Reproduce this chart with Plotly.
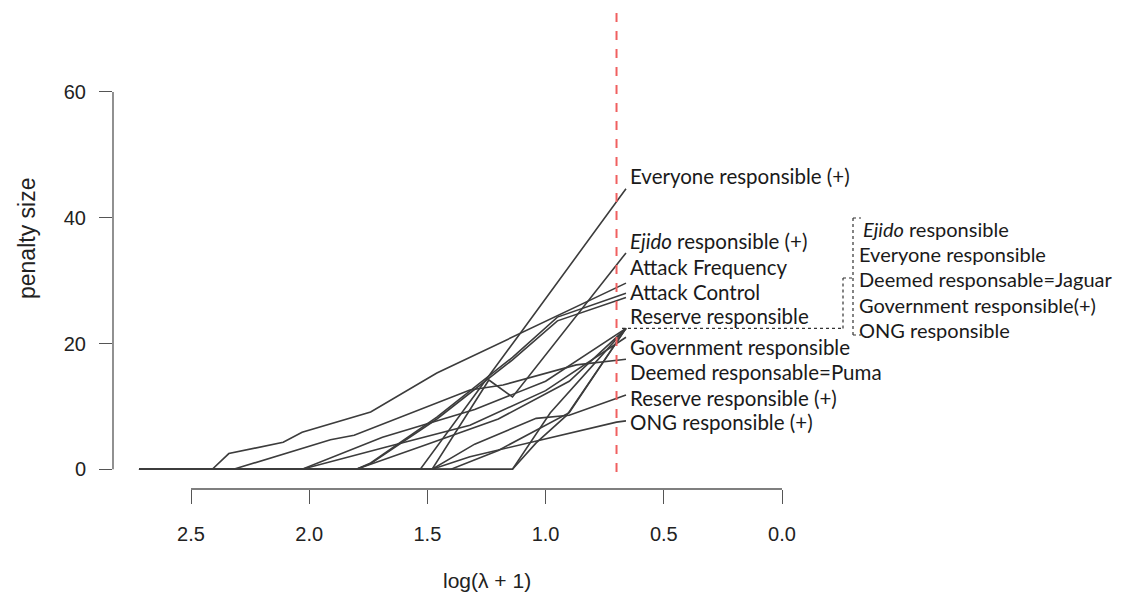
import plotly.graph_objects as go

# ---------------- data (x = log(lambda+1), y = penalty size) ----------------
everyone_pos_x = [2.72, 1.53, 1.10, 0.66]
everyone_pos_y = [0, 0, 22.0, 44.6]

ejido_pos_x = [2.72, 1.48, 1.24, 1.14, 0.66]
ejido_pos_y = [0, 0, 14.2, 11.5, 34.4]

attack_freq_x = [2.72, 2.41, 2.34, 2.11, 2.03, 1.74, 1.46, 1.28, 0.66]
attack_freq_y = [0, 0, 2.5, 4.3, 5.9, 9.1, 15.3, 18.5, 29.6]

attack_ctrl_x = [2.72, 1.80, 1.74, 1.46, 1.14, 0.95, 0.66]
attack_ctrl_y = [0, 0, 1.0, 8.3, 17.8, 24.2, 28.0]

reserve_x = [2.72, 1.80, 1.74, 1.46, 1.14, 0.95, 0.66]
reserve_y = [0, 0, 0.9, 8.0, 17.4, 23.6, 27.3]

deemed_puma_x = [2.72, 2.32, 1.91, 1.81, 1.32, 1.18, 0.87, 0.66]
deemed_puma_y = [0, 0, 4.7, 5.4, 12.6, 13.4, 16.6, 17.5]

government_x = [2.72, 2.03, 1.69, 1.32, 1.00, 0.66]
government_y = [0, 0, 3.4, 7.0, 12.5, 21.0]

reserve_pos_x = [2.72, 1.48, 1.30, 1.04, 0.90, 0.66]
reserve_pos_y = [0, 0, 4.0, 8.1, 8.6, 11.8]

ong_pos_x = [2.72, 1.48, 1.32, 0.70, 0.66]
ong_pos_y = [0, 0, 2.0, 7.5, 7.7]

ejido_x = [2.72, 1.14, 1.04, 0.91, 0.66]
ejido_y = [0, 0, 4.2, 8.6, 22.4]

everyone_x = [2.72, 1.14, 0.98, 0.66]
everyone_y = [0, 0, 9.0, 22.4]

deemed_jaguar_x = [2.72, 2.03, 1.69, 1.30, 1.00, 0.66]
deemed_jaguar_y = [0, 0, 5.1, 9.5, 14.0, 22.4]

government_pos_x = [2.72, 1.80, 1.50, 1.20, 0.90, 0.66]
government_pos_y = [0, 0, 4.0, 8.0, 14.0, 22.4]

ong_x = [2.72, 1.40, 1.20, 0.90, 0.66]
ong_y = [0, 0, 3.0, 9.0, 22.4]

series = [
    (everyone_pos_x, everyone_pos_y), (ejido_pos_x, ejido_pos_y),
    (attack_freq_x, attack_freq_y), (attack_ctrl_x, attack_ctrl_y),
    (reserve_x, reserve_y), (deemed_puma_x, deemed_puma_y),
    (government_x, government_y), (reserve_pos_x, reserve_pos_y),
    (ong_pos_x, ong_pos_y), (ejido_x, ejido_y), (everyone_x, everyone_y),
    (deemed_jaguar_x, deemed_jaguar_y), (government_pos_x, government_pos_y),
    (ong_x, ong_y),
]

x_ticks = [2.5, 2.0, 1.5, 1.0, 0.5, 0.0]
x_tick_text = ["2.5", "2.0", "1.5", "1.0", "0.5", "0.0"]
y_ticks = [0, 20, 40, 60]
selected_log_lambda = 0.70

left_labels = ["Everyone responsible (+)", "<i>Ejido</i> responsible (+)",
               "Attack Frequency", "Attack Control", "Reserve responsible",
               "Government responsible", "Deemed responsable=Puma",
               "Reserve responsible (+)", "ONG responsible (+)"]
left_label_y = [46.6, 36.3, 32.2, 28.2, 24.3, 19.4, 15.4, 11.4, 7.5]

group_labels = ["<i>Ejido</i> responsible", "Everyone responsible",
                "Deemed responsable=Jaguar", "Government responsible(+)",
                "ONG responsible"]
group_label_y = [38.2, 34.2, 30.2, 26.2, 22.2]
group_value = 22.4

# ---------------- layout geometry (page pixels; page body has 8px margin) ----
OFF = 8
W, H = 1141 - OFF, 601 - OFF
PLOT_L, PLOT_R, PLOT_T, PLOT_B = 113, 1125, 8, 489   # page pixels
ML, MR, MT, MB = PLOT_L - OFF, W - (PLOT_R - OFF), PLOT_T - OFF, H - (PLOT_B - OFF)
PX_PER_X = 236.4
PX_PER_Y = 6.29
X0_PX = 782      # page pixel of x=0
Y0_PX = 469.3    # page pixel of y=0


def dx(px):
    return (X0_PX - px) / PX_PER_X


def dy(py):
    return (Y0_PX - py) / PX_PER_Y


def paper_x(px):
    return (px - PLOT_L) / (PLOT_R - PLOT_L)


def paper_y(py):
    return (PLOT_B - py) / (PLOT_B - PLOT_T)


x_lo, x_hi = dx(PLOT_L), dx(PLOT_R)
y_lo, y_hi = dy(PLOT_B), dy(PLOT_T)

fig = go.Figure()
line_col = "#3c3c3c"
for xs, ys in series:
    fig.add_trace(go.Scatter(x=xs, y=ys, mode="lines",
                             line=dict(color=line_col, width=1.6),
                             showlegend=False, hoverinfo="skip"))

shapes = []
shapes.append(dict(type="line", xref="x", yref="y", x0=selected_log_lambda,
                   x1=selected_log_lambda, y0=dy(472), y1=dy(10),
                   line=dict(color="#f06060", width=2, dash="dash")))
shapes.append(dict(type="line", xref="x", yref="paper", x0=x_ticks[0],
                   x1=x_ticks[-1], y0=0, y1=0,
                   line=dict(color="#555555", width=1.3)))
shapes.append(dict(type="line", xref="paper", yref="y", x0=0, x1=0,
                   y0=y_ticks[0], y1=y_ticks[-1],
                   line=dict(color="#555555", width=1.3)))
dsty = dict(color="#333333", width=1.2, dash="dot")
shapes += [
    dict(type="line", xref="x", yref="y", x0=dx(622), x1=dx(843),
         y0=group_value, y1=group_value, line=dsty),
    dict(type="line", xref="x", yref="y", x0=dx(843), x1=dx(843),
         y0=group_value, y1=dy(278), line=dsty),
    dict(type="line", xref="x", yref="y", x0=dx(843), x1=dx(852),
         y0=dy(278), y1=dy(278), line=dsty),
    dict(type="line", xref="x", yref="y", x0=dx(853), x1=dx(853),
         y0=dy(335), y1=dy(218), line=dsty),
    dict(type="line", xref="x", yref="y", x0=dx(853), x1=dx(861),
         y0=dy(218), y1=dy(218), line=dsty),
    dict(type="line", xref="x", yref="y", x0=dx(853), x1=dx(861),
         y0=dy(335), y1=dy(335), line=dsty),
]

annotations = []
lab_font = dict(family="Lato, Open Sans, sans-serif", size=20.5, color="#1a1a1a")
grp_font = dict(family="Lato, Open Sans, sans-serif", size=20, color="#1a1a1a")
for t, yv in zip(left_labels, left_label_y):
    annotations.append(dict(x=dx(629), y=yv, xref="x", yref="y", text=t,
                            showarrow=False, xanchor="left", yanchor="middle",
                            borderpad=0, font=lab_font))
for i, (t, yv) in enumerate(zip(group_labels, group_label_y)):
    annotations.append(dict(x=dx(862 if i == 0 else 858), y=yv, xref="x", yref="y",
                            text=t, showarrow=False, xanchor="left",
                            yanchor="middle", borderpad=0, font=grp_font))
ax_font = dict(family="Liberation Sans, Arial, sans-serif", size=21, color="#222222")
annotations.append(dict(x=paper_x(487), y=paper_y(580), xref="paper", yref="paper",
                        text="log(\u03bb + 1)", showarrow=False,
                        xanchor="center", yanchor="middle", font=ax_font))
annotations.append(dict(x=paper_x(27), y=paper_y(239), xref="paper", yref="paper",
                        text="penalty size", showarrow=False, textangle=-90,
                        xanchor="center", yanchor="middle",
                        font=dict(family="Liberation Sans, Arial, sans-serif",
                                  size=23, color="#222222")))

tick_font = dict(family="Liberation Sans, Arial, sans-serif", size=20, color="#222222")
fig.update_layout(
    width=W, height=H,
    margin=dict(l=ML, r=MR, t=MT, b=MB, pad=0),
    paper_bgcolor="white", plot_bgcolor="white",
    shapes=shapes, annotations=annotations,
    xaxis=dict(range=[x_lo, x_hi], tickvals=x_ticks, ticktext=x_tick_text,
               showgrid=False, zeroline=False, showline=False,
               ticks="outside", ticklen=14, tickwidth=1.3, tickcolor="#555555",
               ticklabelstandoff=13, tickfont=tick_font),
    yaxis=dict(range=[y_lo, y_hi], tickvals=y_ticks,
               showgrid=False, zeroline=False, showline=False,
               ticks="outside", ticklen=13, tickwidth=1.3, tickcolor="#555555",
               ticklabelstandoff=9, tickfont=tick_font),
)

fig.write_html("out.html")
